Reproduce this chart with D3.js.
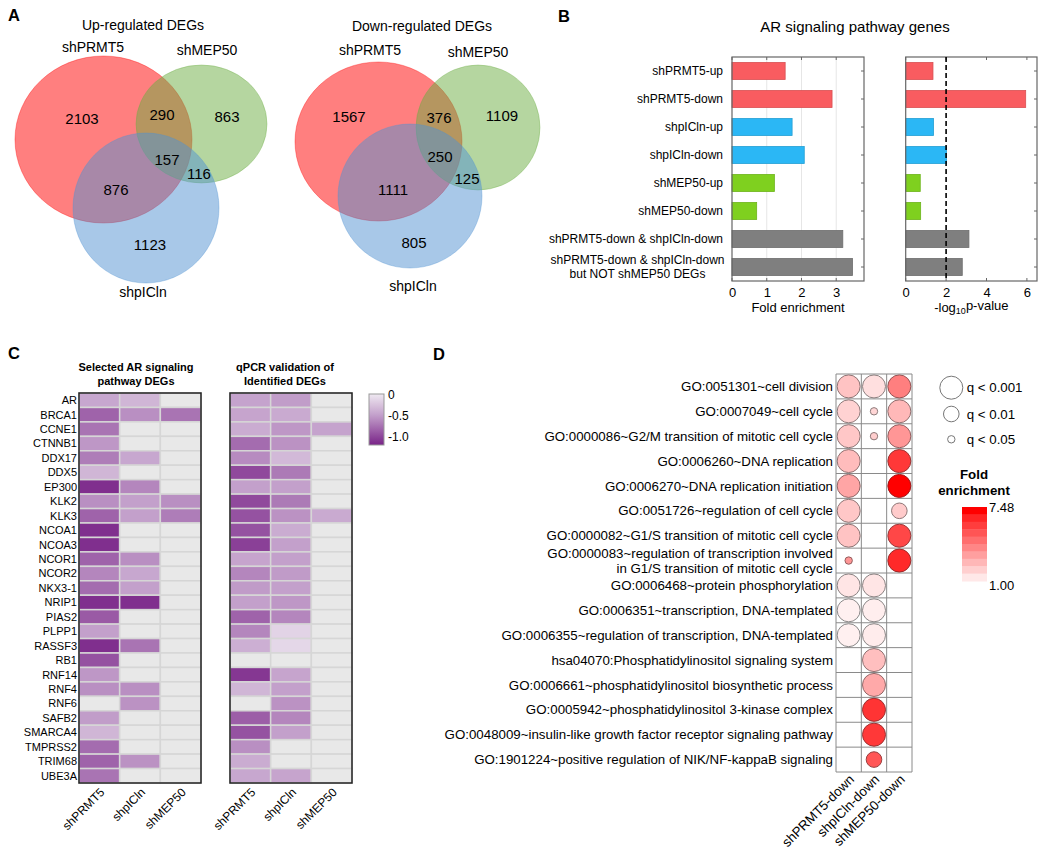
<!DOCTYPE html>
<html><head><meta charset="utf-8">
<script src="https://cdn.jsdelivr.net/npm/d3@7"></script>
<style>
body{margin:0;background:#fff;}
svg{display:block;font-family:"Liberation Sans",Arial,Helvetica,sans-serif;}
</style></head><body>
<svg id="chart" width="1050" height="855"></svg>
<script>
// ================= DATA =================
// Panel A – Venn counts (region order below)
const vennSets = ["shPRMT5", "shMEP50", "shpICln"];
const vennRegions = ["shPRMT5 only", "shPRMT5 & shMEP50", "shMEP50 only", "all three",
                     "shMEP50 & shpICln", "shPRMT5 & shpICln", "shpICln only"];
const upCounts = [2103, 290, 863, 157, 116, 876, 1123];
const downCounts = [1567, 376, 1109, 250, 125, 1111, 805];
const vennTitles = ["Up-regulated DEGs", "Down-regulated DEGs"];

// Panel B – AR signaling pathway genes
const bCategories = ["shPRMT5-up", "shPRMT5-down", "shpICln-up", "shpICln-down", "shMEP50-up",
                     "shMEP50-down", "shPRMT5-down & shpICln-down",
                     "shPRMT5-down & shpICln-down\nbut NOT shMEP50 DEGs"];
const bGroup = ["PRMT5", "PRMT5", "ICln", "ICln", "MEP50", "MEP50", "combined", "combined"];
const foldEnrichment = [1.53, 2.88, 1.73, 2.08, 1.22, 0.71, 3.19, 3.47];
const negLog10P = [1.35, 5.94, 1.38, 2.02, 0.72, 0.74, 3.13, 2.80];
const bFoldTicks = [0, 1, 2, 3];
const bPTicks = [0, 2, 4, 6];
const pThreshold = 2;

// Panel C – heatmaps (null = not a DEG, grey)
const cGenes = ["AR", "BRCA1", "CCNE1", "CTNNB1", "DDX17", "DDX5", "EP300", "KLK2", "KLK3", "NCOA1",
                "NCOA3", "NCOR1", "NCOR2", "NKX3-1", "NRIP1", "PIAS2", "PLPP1", "RASSF3", "RB1",
                "RNF14", "RNF4", "RNF6", "SAFB2", "SMARCA4", "TMPRSS2", "TRIM68", "UBE3A"];
const cSamples = ["shPRMT5", "shpICln", "shMEP50"];
const selectedDEG = [
  [-0.45, -0.35, null], [-0.85, -0.6, -0.75], [-0.75, null, null], [-0.55, null, null],
  [-0.7, -0.45, null], [-0.35, null, null], [-1.15, -0.65, null], [-0.6, -0.5, -0.6],
  [-0.85, -0.5, -0.7], [-1.15, null, null], [-1.15, null, null], [-0.85, -0.6, null],
  [-0.65, -0.45, null], [-0.8, -0.5, null], [-1.15, -1.15, null], [-0.9, null, null],
  [-0.5, null, null], [-1.15, -0.75, null], [-0.95, null, null], [-0.55, null, null],
  [-0.6, -0.6, null], [null, -0.58, null], [-0.52, null, null], [-0.35, null, null],
  [-0.8, null, null], [-0.85, -0.58, null], [-0.75, null, null]
];
const qpcrDEG = [
  [-0.48, -0.52, null], [-0.47, -0.43, null], [-0.42, -0.55, -0.48], [-0.8, -0.58, null],
  [-0.62, -0.33, null], [-1.0, -0.72, null], [-0.5, -0.5, null], [-1.0, -0.72, null],
  [-0.95, -0.58, -0.43], [-0.95, -0.42, null], [-1.05, -0.5, null], [-0.47, -0.5, null],
  [-0.65, -0.53, null], [-0.53, -0.5, null], [-0.5, -0.55, null], [-0.85, -0.65, null],
  [-0.65, -0.15, null], [-0.4, -0.12, null], [null, null, null], [-1.1, -0.47, null],
  [-0.35, -0.5, null], [null, -0.58, null], [-0.88, -0.65, null], [-0.95, -0.5, null],
  [-0.6, null, null], [-0.42, null, null], [-0.45, -0.47, null]
];
const cTitles = [["Selected AR signaling", "pathway DEGs"], ["qPCR validation of", "Identified DEGs"]];
const cLegendTicks = [0, -0.5, -1.0];
const cLegendLabels = ["0", "-0.5", "-1.0"];

// Panel D – GO enrichment bubbles
const goTerms = ["GO:0051301~cell division", "GO:0007049~cell cycle",
  "GO:0000086~G2/M transition of mitotic cell cycle", "GO:0006260~DNA replication",
  "GO:0006270~DNA replication initiation", "GO:0051726~regulation of cell cycle",
  "GO:0000082~G1/S transition of mitotic cell cycle",
  "GO:0000083~regulation of transcription involved\nin G1/S transition of mitotic cell cycle",
  "GO:0006468~protein phosphorylation", "GO:0006351~transcription, DNA-templated",
  "GO:0006355~regulation of transcription, DNA-templated",
  "hsa04070:Phosphatidylinositol signaling system",
  "GO:0006661~phosphatidylinositol biosynthetic process",
  "GO:0005942~phosphatidylinositol 3-kinase complex",
  "GO:0048009~insulin-like growth factor receptor signaling pathway",
  "GO:1901224~positive regulation of NIK/NF-kappaB signaling"];
const dConditions = ["shPRMT5-down", "shpICln-down", "shMEP50-down"];
const dFold = [
  [2.3, 1.55, 4.1], [1.9, 1.8, 2.6], [2.2, 2.0, 3.5], [2.5, null, 6.0], [3.1, null, 7.48],
  [2.2, null, 2.1], [2.3, null, 5.6], [3.5, null, 6.4], [1.4, 1.4, null], [1.1, 1.15, null],
  [1.1, 1.2, null], [null, 2.4, null], [null, 3.0, null], [null, 6.1, null], [null, 6.0, null],
  [null, 5.2, null]
];
// 3: q<0.001, 2: q<0.01, 1: q<0.05, 0: not enriched
const dQ = [
  [3, 3, 3], [3, 1, 3], [3, 1, 3], [3, 0, 3], [3, 0, 3], [3, 0, 2], [3, 0, 3], [1, 0, 3],
  [3, 3, 0], [3, 3, 0], [3, 3, 0], [0, 3, 0], [0, 3, 0], [0, 3, 0], [0, 3, 0], [0, 2, 0]
];
const qLegendLevels = [3, 2, 1];
const qLegendLabels = ["q < 0.001", "q < 0.01", "q < 0.05"];
const foldRange = [1.00, 7.48];

// ================= DRAWING =================
const svg = d3.select("#chart");

// panel letters
[["A", 8, 21], ["B", 558, 22], ["C", 8, 359], ["D", 433, 360]].forEach(([t, x, y]) =>
  svg.append("text").attr("x", x).attr("y", y).attr("font-size", 16.5)
     .attr("font-weight", "bold").text(t));

// ---------- Panel A ----------
const vennColors = ["rgb(255,0,0)", "rgb(107,173,65)", "rgb(81,145,209)"];
const vennLayouts = [
  { title: [143, 25],
    circles: [[103.5, 139.5, 88.5, 83.5], [201.5, 124, 65.5, 59], [146, 208, 73, 75]],
    setLabels: [[93, 47], [207, 50], [143, 292]],
    regionLabels: [[82, 119], [162, 115], [227, 117], [167, 160], [199, 174], [116, 190], [150, 245]] },
  { title: [422, 26],
    circles: [[378.5, 141.5, 83.5, 79.5], [478, 127.5, 62, 62.5], [410, 196, 72, 72]],
    setLabels: [[370, 50], [478, 52], [413, 286]],
    regionLabels: [[349, 117], [439, 118], [502, 116], [440, 157], [467, 179], [393, 190], [414, 243]] }
];
[upCounts, downCounts].forEach((counts, vi) => {
  const L = vennLayouts[vi];
  const g = svg.append("g");
  g.selectAll("ellipse").data(vennSets).join("ellipse")
    .attr("cx", (d, i) => L.circles[i][0]).attr("cy", (d, i) => L.circles[i][1])
    .attr("rx", (d, i) => L.circles[i][2]).attr("ry", (d, i) => L.circles[i][3])
    .attr("fill", (d, i) => vennColors[i]).attr("fill-opacity", 0.5)
    .attr("stroke", (d, i) => vennColors[i]).attr("stroke-opacity", 0.35).attr("stroke-width", 1);
  g.append("text").attr("x", L.title[0]).attr("y", L.title[1]).attr("dy", "0.35em")
    .attr("text-anchor", "middle").attr("font-size", 14).text(vennTitles[vi]);
  g.selectAll("text.set").data(vennSets).join("text").attr("class", "set")
    .attr("x", (d, i) => L.setLabels[i][0]).attr("y", (d, i) => L.setLabels[i][1])
    .attr("dy", "0.35em").attr("text-anchor", "middle").attr("font-size", 14).text(d => d);
  g.selectAll("text.cnt").data(counts).join("text").attr("class", "cnt")
    .attr("x", (d, i) => L.regionLabels[i][0]).attr("y", (d, i) => L.regionLabels[i][1])
    .attr("dy", "0.35em").attr("text-anchor", "middle").attr("font-size", 15).text(d => d);
});

// ---------- Panel B ----------
const bColors = { PRMT5: "#f95c60", ICln: "#2bb7f5", MEP50: "#7fd01f", combined: "#7f7f7f" };
const bTop = 57, bBot = 281;
const yB = d3.scaleBand().domain(bCategories).range([bTop, bBot]).paddingInner(0.39).paddingOuter(0.195);
const xFold = d3.scaleLinear().domain([0, 3.8]).range([732, 864]);
const xP = d3.scaleLinear().domain([0, 6.5]).range([905.7, 1037]);
svg.append("text").attr("x", 855).attr("y", 27).attr("dy", "0.35em").attr("text-anchor", "middle")
  .attr("font-size", 15).text("AR signaling pathway genes");

function drawBarPanel(x, values, ticks, grid) {
  const g = svg.append("g");
  const [x0, x1] = x.range();
  if (grid) {
    g.selectAll("line.grid").data(ticks.filter(t => t > 0)).join("line").attr("class", "grid")
      .attr("x1", d => x(d)).attr("x2", d => x(d)).attr("y1", bTop).attr("y2", bBot)
      .attr("stroke", "#e6e6e6").attr("stroke-width", 1);
  }
  g.selectAll("rect.bar").data(bCategories).join("rect").attr("class", "bar")
    .attr("x", x(0)).attr("y", d => yB(d))
    .attr("width", (d, i) => x(values[i]) - x(0)).attr("height", yB.bandwidth())
    .attr("fill", (d, i) => bColors[bGroup[i]])
    .attr("stroke", (d, i) => d3.color(bColors[bGroup[i]]).darker(0.4)).attr("stroke-width", 0.8);
  g.append("rect").attr("x", x0).attr("y", bTop).attr("width", x1 - x0).attr("height", bBot - bTop)
    .attr("fill", "none").attr("stroke", "#666").attr("stroke-width", 1.2);
  // inner ticks
  ticks.forEach(t => {
    g.append("line").attr("x1", x(t)).attr("x2", x(t)).attr("y1", bTop).attr("y2", bTop + 3).attr("stroke", "#666");
    g.append("line").attr("x1", x(t)).attr("x2", x(t)).attr("y1", bBot).attr("y2", bBot - 3).attr("stroke", "#666");
  });
  bCategories.forEach(c => {
    const yc = yB(c) + yB.bandwidth() / 2;
    g.append("line").attr("x1", x1).attr("x2", x1 - 3).attr("y1", yc).attr("y2", yc).attr("stroke", "#666");
  });
  const ax = g.append("g").attr("transform", `translate(0,${bBot})`)
    .call(d3.axisBottom(x).tickValues(ticks).tickSize(0).tickPadding(7).tickFormat(d => String(d)));
  ax.select(".domain").remove();
  ax.selectAll("text").attr("font-size", 13).attr("font-family", null).attr("fill", "#000");
  return g;
}
drawBarPanel(xFold, foldEnrichment, bFoldTicks, true);
const gP = drawBarPanel(xP, negLog10P, bPTicks, false);
gP.append("line").attr("x1", xP(pThreshold)).attr("x2", xP(pThreshold)).attr("y1", bTop).attr("y2", bBot)
  .attr("stroke", "#000").attr("stroke-width", 1.6).attr("stroke-dasharray", "5,3");

// row labels
bCategories.forEach(c => {
  const lines = c.split("\n");
  const yc = yB(c) + yB.bandwidth() / 2;
  if (lines.length === 1) {
    svg.append("text").attr("x", 723).attr("y", yc).attr("dy", "0.35em").attr("text-anchor", "end")
      .attr("font-size", 12).text(c);
  } else {
    lines.forEach((l, k) => svg.append("text").attr("x", 637.5).attr("y", yc + (k - 0.5) * 14)
      .attr("dy", "0.35em").attr("text-anchor", "middle").attr("font-size", 12).text(l));
  }
});
svg.append("text").attr("x", (xFold.range()[0] + xFold.range()[1]) / 2).attr("y", 307).attr("dy", "0.35em")
  .attr("text-anchor", "middle").attr("font-size", 13).text("Fold enrichment");
const pl = svg.append("text").attr("x", (xP.range()[0] + xP.range()[1]) / 2).attr("y", 307).attr("dy", "0.35em")
  .attr("text-anchor", "middle").attr("font-size", 13);
pl.append("tspan").text("-log");
pl.append("tspan").attr("font-size", 9).attr("dy", "0.3em").text("10");
pl.append("tspan").attr("dy", "-0.3em").text("p-value");

// ---------- Panel C ----------
const heatColor = d3.scaleLinear().domain([0, -0.5, -1.2]).range(["#efe9f1", "#c3a0cb", "#7b2689"]);
const greyCell = "#e8e8e8";
const yC = d3.scaleBand().domain(cGenes).range([393, 783]);
const heatXs = [d3.scaleBand().domain(cSamples).range([79, 201]),
                d3.scaleBand().domain(cSamples).range([230, 352])];
[selectedDEG, qpcrDEG].forEach((mat, hi) => {
  const x = heatXs[hi];
  const g = svg.append("g");
  const cells = [];
  cGenes.forEach((gene, r) => cSamples.forEach((s, c) => cells.push({ gene, s, v: mat[r][c] })));
  g.selectAll("rect.cell").data(cells).join("rect").attr("class", "cell")
    .attr("x", d => x(d.s)).attr("y", d => yC(d.gene))
    .attr("width", x.bandwidth()).attr("height", yC.bandwidth())
    .attr("fill", d => d.v === null ? greyCell : heatColor(d.v))
    .attr("stroke", "#d6d6d6").attr("stroke-width", 1.5);
  const [a, b] = x.range();
  g.append("rect").attr("x", a).attr("y", 393).attr("width", b - a).attr("height", 390)
    .attr("fill", "none").attr("stroke", "#222").attr("stroke-width", 1.5);
  const cx = (a + b) / 2;
  cTitles[hi].forEach((t, k) => g.append("text").attr("x", cx + (hi === 0 ? -4 : -6)).attr("y", 367 + k * 14)
    .attr("dy", "0.35em").attr("text-anchor", "middle").attr("font-size", 11).attr("font-weight", "bold").text(t));
  cSamples.forEach(s => {
    g.append("text").attr("transform", `translate(${x(s) + x.bandwidth() / 2 + 3},${790}) rotate(-45)`)
      .attr("text-anchor", "end").attr("dy", "0.35em").attr("font-size", 12).text(s);
  });
});
// row labels
svg.selectAll("text.gene").data(cGenes).join("text").attr("class", "gene")
  .attr("x", 77).attr("y", d => yC(d) + yC.bandwidth() / 2).attr("dy", "0.35em")
  .attr("text-anchor", "end").attr("font-size", 11).text(d => d);
// color legend
const yLeg = d3.scaleLinear().domain([0, -1.22]).range([394, 445]);
const defs = svg.append("defs");
const grad = defs.append("linearGradient").attr("id", "heatgrad").attr("x1", 0).attr("x2", 0).attr("y1", 0).attr("y2", 1);
d3.range(0, 1.0001, 0.1).forEach(t => grad.append("stop").attr("offset", t)
  .attr("stop-color", heatColor(yLeg.domain()[0] + t * (yLeg.domain()[1] - yLeg.domain()[0]))));
svg.append("rect").attr("x", 369).attr("y", yLeg.range()[0]).attr("width", 15)
  .attr("height", yLeg.range()[1] - yLeg.range()[0]).attr("fill", "url(#heatgrad)")
  .attr("stroke", "#999").attr("stroke-width", 1);
svg.selectAll("text.cleg").data(cLegendTicks).join("text").attr("class", "cleg")
  .attr("x", 388).attr("y", d => yLeg(d) + 1).attr("dy", "0.35em").attr("font-size", 12)
  .text((d, i) => cLegendLabels[i]);

// ---------- Panel D ----------
const xD = d3.scaleBand().domain(dConditions).range([836, 912]);
const yD = d3.scaleBand().domain(goTerms).range([374, 772]);
const rD = d3.scaleOrdinal().domain([1, 2, 3]).range([3.7, 7.8, 11.5]);
const colorD = d3.scaleLinear().domain(foldRange).range(["#fff4f4", "#ff0000"]);
const strokeD = d3.scaleLinear().domain(foldRange).range(["#8a8a8a", "#a01818"]);
const gD = svg.append("g");
// grid
goTerms.concat([null]).forEach((t, i) => {
  const y = i < goTerms.length ? yD(t) : yD.range()[1];
  gD.append("line").attr("x1", 836).attr("x2", 912).attr("y1", y).attr("y2", y).attr("stroke", "#8a8a8a");
});
dConditions.concat([null]).forEach((c, i) => {
  const x = i < dConditions.length ? xD(c) : xD.range()[1];
  gD.append("line").attr("x1", x).attr("x2", x).attr("y1", 374).attr("y2", 772).attr("stroke", "#8a8a8a");
});
const bubbles = [];
goTerms.forEach((t, r) => dConditions.forEach((c, k) => {
  if (dQ[r][k] > 0) bubbles.push({ t, c, q: dQ[r][k], f: dFold[r][k] });
}));
gD.selectAll("circle.b").data(bubbles).join("circle").attr("class", "b")
  .attr("cx", d => xD(d.c) + xD.bandwidth() / 2).attr("cy", d => yD(d.t) + yD.bandwidth() / 2)
  .attr("r", d => rD(d.q)).attr("fill", d => colorD(d.f)).attr("stroke", d => strokeD(d.f)).attr("stroke-width", 1);
// row labels
goTerms.forEach(t => {
  const lines = t.split("\n");
  const yc = yD(t) + yD.bandwidth() / 2;
  lines.forEach((l, k) => gD.append("text").attr("x", 833).attr("y", yc + (k - (lines.length - 1) / 2) * 15)
    .attr("dy", "0.35em").attr("text-anchor", "end").attr("font-size", 13.3).text(l));
});
dConditions.forEach(c => {
  gD.append("text").attr("transform", `translate(${xD(c) + xD.bandwidth() / 2 + 3},${777}) rotate(-45)`)
    .attr("text-anchor", "end").attr("dy", "0.35em").attr("font-size", 13.3).text(c);
});
// q legend
const qLegY = d3.scaleOrdinal().domain(qLegendLevels).range([387.7, 414, 439.3]);
qLegendLevels.forEach((q, i) => {
  gD.append("circle").attr("cx", 951.3).attr("cy", qLegY(q)).attr("r", rD(q))
    .attr("fill", "#fff").attr("stroke", "#777").attr("stroke-width", 1);
  gD.append("text").attr("x", 966.7).attr("y", qLegY(q)).attr("dy", "0.35em").attr("font-size", 13.3).text(qLegendLabels[i]);
});
// fold legend
["Fold", "enrichment"].forEach((t, k) => gD.append("text").attr("x", 974).attr("y", 474 + k * 16)
  .attr("dy", "0.35em").attr("text-anchor", "middle").attr("font-size", 13.3).attr("font-weight", "bold").text(t));
const legTop = 507, legBot = 581, nBands = 10;
const yFL = d3.scaleLinear().domain([foldRange[1], foldRange[0]]).range([legTop, legBot]);
const bandVals = d3.range(nBands).map(i => foldRange[1] - (i + 0.5) * (foldRange[1] - foldRange[0]) / nBands);
gD.selectAll("rect.fl").data(bandVals).join("rect").attr("class", "fl")
  .attr("x", 962).attr("width", 25)
  .attr("y", (d, i) => yFL(foldRange[1] - i * (foldRange[1] - foldRange[0]) / nBands))
  .attr("height", (legBot - legTop) / nBands + 0.5)
  .attr("fill", (d, i) => colorD(i === 0 ? foldRange[1] : d));
gD.append("text").attr("x", 989).attr("y", yFL(foldRange[1])).attr("dy", "0.35em").attr("font-size", 13)
  .text(foldRange[1].toFixed(2));
gD.append("text").attr("x", 989).attr("y", yFL(foldRange[0]) + 4).attr("dy", "0.35em").attr("font-size", 13)
  .text(foldRange[0].toFixed(2));
</script>
</body></html>
